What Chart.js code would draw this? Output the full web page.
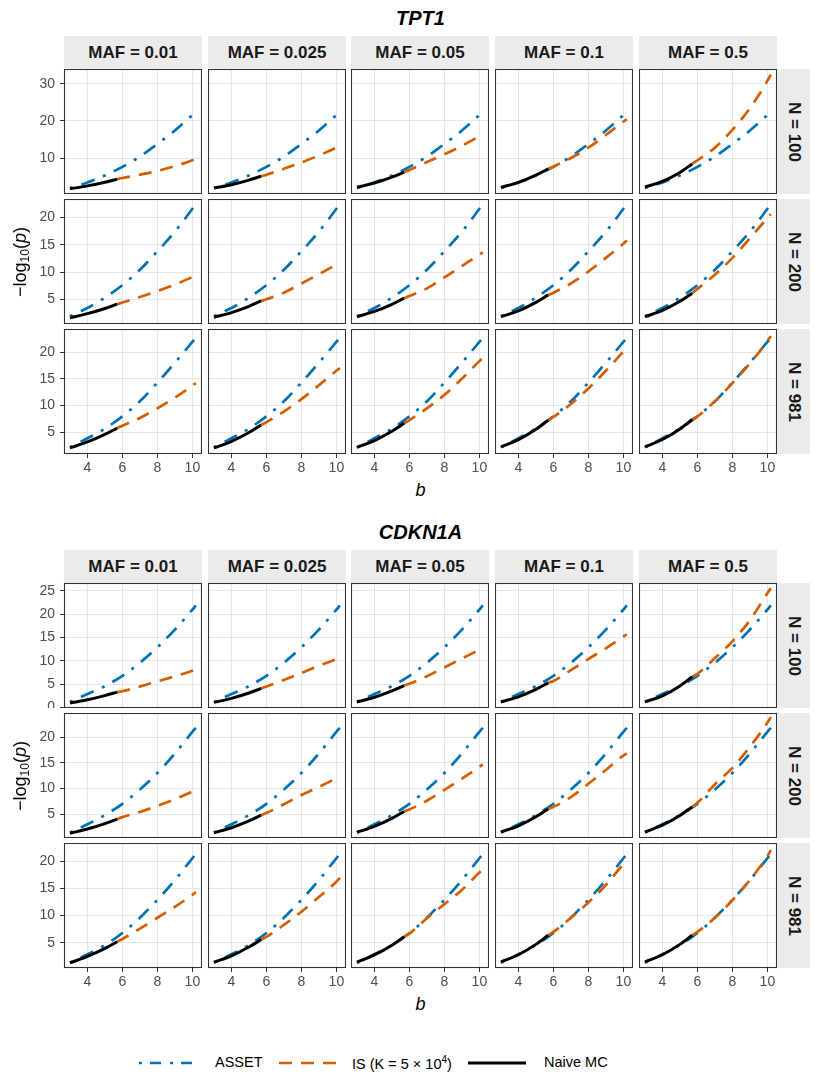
<!DOCTYPE html>
<html>
<head>
<meta charset="utf-8">
<title>ASSET vs IS vs Naive MC</title>
<script src="https://cdn.jsdelivr.net/npm/chart.js@4.4.1/dist/chart.umd.min.js"></script>
<style>
  body { margin: 0; background: #fff; font-family: "Liberation Sans", Arial, sans-serif; }
  #page { position: relative; width: 815px; height: 1079px; overflow: hidden; }
  canvas { position: absolute; }
  .lbl { position: absolute; transform: translate(-50%, -50%); white-space: nowrap; color: #000; }
  .title { font-size: 20px; font-weight: bold; font-style: italic; }
  .xtitle { font-size: 18px; font-style: italic; }
  .ytitle { font-size: 18px; transform: translate(-50%, -50%) rotate(-90deg); }
  .ytitle sub { font-size: 12px; vertical-align: -3px; }
  .strip { position: absolute; background: #EBEBEB; color: #1A1A1A; font-weight: bold; font-size: 17px;
           display: flex; align-items: center; justify-content: center; }
  .strip.right span { transform: rotate(90deg); white-space: nowrap; }
  .legend { position: absolute; top: 1053px; left: 0; height: 20px; }
  .legend svg { position: absolute; top: 5px; }
  .legend span { position: absolute; top: 1px; font-size: 14.5px; color: #000; white-space: nowrap; }
</style>
</head>
<body>
<div id="page"></div>
<script>
// =========================
// DATA
// =========================
const geneNames = ["TPT1", "CDKN1A"];
const mafLabels = ["0.01", "0.025", "0.05", "0.1", "0.5"];
const sizeLabels = ["100", "200", "981"];

// x values (b) for each method
const assetB = [3, 4, 5, 6, 7, 8, 9, 10, 10.2];
const naiveB = [3, 4, 5, 5.7];
const isB = [5.7, 6, 7, 8, 9, 10, 10.2];
const bTicks = [4, 6, 8, 10];
const bLimits = [2.66, 10.55];

// TPT1 : rows = N (100, 200, 981), cols = MAF
const tpt1Asset = [
  [1.9, 3.4, 5.3, 7.6, 10.4, 13.8, 17.4, 21.6, 22.5],
  [1.9, 3.4, 5.3, 7.6, 10.4, 13.8, 17.4, 21.6, 22.5],
  [2.2, 3.9, 5.7, 8.0, 10.8, 14.3, 18.0, 21.9, 22.7]
];
const tpt1Naive = [
  [[1.7, 2.49, 3.48, 4.3], [1.9, 2.81, 4.05, 5.1], [2.1, 3.27, 4.85, 6.2], [2.1, 3.44, 5.38, 7.1], [2.2, 3.71, 6.1, 8.4]],
  [[1.6, 2.36, 3.31, 4.1], [1.7, 2.56, 3.71, 4.7], [1.8, 2.77, 4.08, 5.2], [1.8, 2.87, 4.43, 5.8], [1.8, 2.95, 4.62, 6.1]],
  [[2.1, 3.22, 4.63, 5.8], [2.1, 3.33, 4.98, 6.4], [2.2, 3.48, 5.22, 6.7], [2.3, 3.64, 5.58, 7.3], [2.3, 3.67, 5.65, 7.4]]
];
const tpt1IS = [
  [[4.3, 4.6, 5.5, 6.5, 7.8, 9.4, 9.8], [5.1, 5.5, 7.1, 8.8, 10.7, 12.8, 13.3], [6.2, 6.8, 8.9, 11.0, 13.3, 15.9, 16.5],
   [7.1, 7.7, 10.0, 12.8, 16.2, 19.8, 20.4], [8.4, 9.4, 12.8, 17.6, 23.4, 30.8, 32.5]],
  [[4.1, 4.4, 5.4, 6.5, 7.7, 9.1, 9.4], [4.7, 5.0, 6.2, 7.9, 9.6, 11.4, 11.8], [5.2, 5.6, 7.0, 9.0, 11.1, 13.2, 13.6],
   [5.8, 6.2, 7.9, 10.1, 12.6, 15.2, 15.8], [6.1, 6.9, 9.5, 12.6, 16.2, 19.9, 20.6]],
  [[5.8, 6.25, 7.7, 9.5, 11.5, 13.7, 14.2], [6.4, 6.9, 8.9, 11.2, 13.8, 16.5, 17.0], [6.7, 7.3, 9.5, 12.0, 15.0, 18.3, 18.9],
   [7.3, 7.9, 10.3, 13.2, 16.5, 20.1, 20.8], [7.4, 8.0, 10.8, 14.2, 17.9, 22.0, 23.0]]
];
const tpt1YTicks = [[10, 20, 30], [5, 10, 15, 20], [5, 10, 15, 20]];
const tpt1YLimits = [[0.3, 34.0], [0.46, 23.4], [0.97, 24.3]];

// CDKN1A
const cdkn1aAsset = [
  [1.2, 2.9, 4.6, 6.8, 9.6, 12.9, 16.7, 21.0, 21.9],
  [1.4, 3.0, 4.8, 7.0, 9.8, 13.0, 16.8, 21.0, 21.8],
  [1.35, 2.9, 4.6, 6.8, 9.6, 12.9, 16.5, 20.5, 21.3]
];
const cdkn1aNaive = [
  [[0.95, 1.66, 2.56, 3.3], [1.1, 1.96, 3.11, 4.1], [1.2, 2.2, 3.55, 4.7], [1.2, 2.3, 3.89, 5.3], [1.2, 2.51, 4.63, 6.6]],
  [[1.25, 2.08, 3.13, 4.0], [1.35, 2.33, 3.66, 4.8], [1.45, 2.61, 4.17, 5.5], [1.5, 2.71, 4.46, 6.0], [1.5, 2.82, 4.72, 6.4]],
  [[1.35, 2.51, 3.99, 5.2], [1.45, 2.63, 4.23, 5.6], [1.45, 2.78, 4.57, 6.1], [1.5, 2.82, 4.72, 6.4], [1.5, 2.82, 4.72, 6.4]]
];
const cdkn1aIS = [
  [[3.3, 3.5, 4.5, 5.6, 6.7, 7.9, 8.2], [4.1, 4.5, 5.9, 7.4, 9.0, 10.4, 10.8], [4.7, 5.1, 6.7, 8.6, 10.5, 12.4, 12.8],
   [5.3, 5.7, 8.0, 10.4, 12.7, 15.2, 15.7], [6.6, 7.2, 10.6, 14.2, 18.7, 24.5, 25.6]],
  [[4.0, 4.4, 5.4, 6.6, 7.9, 9.4, 9.8], [4.8, 5.2, 6.9, 8.7, 10.3, 12.0, 12.4], [5.5, 5.9, 7.6, 9.7, 11.9, 14.2, 14.7],
   [6.0, 6.4, 8.3, 10.9, 13.6, 16.4, 16.8], [6.4, 7.2, 10.8, 14.0, 18.1, 22.8, 23.9]],
  [[5.2, 5.7, 7.6, 9.6, 11.6, 13.8, 14.3], [5.6, 6.1, 8.3, 10.7, 13.4, 16.2, 16.9], [6.1, 6.7, 9.5, 12.1, 14.7, 17.9, 18.5],
   [6.4, 7.0, 9.6, 12.4, 15.6, 19.4, 20.0], [6.4, 7.0, 9.6, 12.8, 16.5, 20.9, 22.0]]
];
const cdkn1aYTicks = [[0, 5, 10, 15, 20, 25], [5, 10, 15, 20], [5, 10, 15, 20]];
const cdkn1aYLimits = [[-0.1, 26.7], [0.33, 24.7], [0.39, 23.3]];

// =========================
// LAYOUT
// =========================
const page = document.getElementById("page");
const panelLefts = [64, 208, 351, 495, 639];
const panelW = 138, panelH = 125, stripH = 33, stripW = 33;
const blocks = [
  { name: geneNames[0], stripTop: 36, rowTops: [69, 199, 329], asset: tpt1Asset, naive: tpt1Naive, is: tpt1IS, yTicks: tpt1YTicks, yLim: tpt1YLimits },
  { name: geneNames[1], stripTop: 550, rowTops: [583, 713, 843], asset: cdkn1aAsset, naive: cdkn1aNaive, is: cdkn1aIS, yTicks: cdkn1aYTicks, yLim: cdkn1aYLimits }
];
const yAxisW = 40, xAxisH = 22;
const COL_ASSET = "#0072B2", COL_IS = "#D55E00", COL_NAIVE = "#000000";
const DASH_ASSET = [3, 9, 14, 9], DASH_IS = [13, 9];

function addLabel(html, cls, x, y) {
  const d = document.createElement("div");
  d.className = "lbl " + cls;
  d.innerHTML = html;
  d.style.left = x + "px";
  d.style.top = y + "px";
  page.appendChild(d);
  return d;
}

function addStrip(text, x, y, w, h, right) {
  const d = document.createElement("div");
  d.className = "strip" + (right ? " right" : "");
  d.style.left = x + "px"; d.style.top = y + "px";
  d.style.width = w + "px"; d.style.height = h + "px";
  d.innerHTML = "<span>" + text + "</span>";
  page.appendChild(d);
}

// panel border drawn on top of the lines
const panelBorder = {
  id: "panelBorder",
  afterDraw(chart) {
    const a = chart.chartArea, ctx = chart.ctx;
    ctx.save();
    ctx.strokeStyle = "#333333";
    ctx.lineWidth = 1.1;
    ctx.strokeRect(a.left + 0.5, a.top + 0.5, a.right - a.left - 1, a.bottom - a.top - 1);
    ctx.restore();
  }
};

function fitScale(size, vertical) {
  return function (scale) {
    if (vertical) scale.width = size; else scale.height = size;
    scale.paddingTop = 0; scale.paddingBottom = 0;
    scale.paddingLeft = 0; scale.paddingRight = 0;
  };
}

function pts(xs, ys) {
  return xs.map((x, i) => ({ x: x, y: ys[i] }));
}

function makePanel(block, r, c) {
  const leftAxis = c === 0, bottomAxis = r === 2;
  const cv = document.createElement("canvas");
  const w = panelW + (leftAxis ? yAxisW : 0);
  const h = panelH + (bottomAxis ? xAxisH : 0);
  cv.width = w; cv.height = h;
  cv.style.width = w + "px"; cv.style.height = h + "px";
  cv.style.left = (panelLefts[c] - (leftAxis ? yAxisW : 0)) + "px";
  cv.style.top = block.rowTops[r] + "px";
  page.appendChild(cv);

  const tickFont = { family: "'Liberation Sans', Arial, sans-serif", size: 14 };
  const yTicks = block.yTicks[r];

  new Chart(cv.getContext("2d"), {
    type: "line",
    data: {
      datasets: [
        { label: "Naive MC", data: pts(naiveB, block.naive[r][c]), borderColor: COL_NAIVE, borderWidth: 3,
          pointRadius: 0, cubicInterpolationMode: "monotone", fill: false },
        { label: "IS", data: pts(isB, block.is[r][c]), borderColor: COL_IS, borderWidth: 2.7, borderDash: DASH_IS,
          pointRadius: 0, cubicInterpolationMode: "monotone", fill: false },
        { label: "ASSET", data: pts(assetB, block.asset[r]), borderColor: COL_ASSET, borderWidth: 2.7, borderDash: DASH_ASSET,
          pointRadius: 0, cubicInterpolationMode: "monotone", fill: false }
      ]
    },
    options: {
      responsive: false,
      animation: false,
      events: [],
      layout: { padding: 0, autoPadding: false },
      plugins: { legend: { display: false }, tooltip: { enabled: false } },
      scales: {
        x: {
          type: "linear", min: bLimits[0], max: bLimits[1],
          afterBuildTicks: (s) => { s.ticks = bTicks.map(v => ({ value: v })); },
          afterFit: fitScale(bottomAxis ? xAxisH : 0, false),
          border: { display: false },
          grid: { color: "#E6E6E6", lineWidth: 1, drawTicks: bottomAxis, tickLength: 4, tickColor: "#333333", tickWidth: 1 },
          ticks: { display: bottomAxis, color: "#4D4D4D", font: tickFont, padding: 2, maxRotation: 0, autoSkip: false }
        },
        y: {
          type: "linear", min: block.yLim[r][0], max: block.yLim[r][1],
          afterBuildTicks: (s) => { s.ticks = yTicks.map(v => ({ value: v })); },
          afterFit: fitScale(leftAxis ? yAxisW : 0, true),
          border: { display: false },
          grid: { color: "#E6E6E6", lineWidth: 1, drawTicks: leftAxis, tickLength: 4, tickColor: "#333333", tickWidth: 1 },
          ticks: { display: leftAxis, color: "#4D4D4D", font: tickFont, padding: 5, autoSkip: false }
        }
      }
    },
    plugins: [panelBorder]
  });
}

blocks.forEach((block) => {
  const gridLeft = panelLefts[0], gridRight = panelLefts[4] + panelW;
  const midX = (gridLeft + gridRight) / 2;
  addLabel(block.name, "title", midX, block.stripTop - 18);

  mafLabels.forEach((m, c) => addStrip("MAF = " + m, panelLefts[c], block.stripTop, panelW, stripH, false));
  sizeLabels.forEach((n, r) => addStrip("N = " + n, gridRight, block.rowTops[r], stripW, panelH, true));

  for (let r = 0; r < 3; r++) {
    for (let c = 0; c < 5; c++) makePanel(block, r, c);
  }

  const gridTop = block.rowTops[0], gridBottom = block.rowTops[2] + panelH;
  addLabel("&minus;log<sub>10</sub>(<i>p</i>)", "ytitle", 21, (gridTop + gridBottom) / 2);
  addLabel("b", "xtitle", midX, gridBottom + 36);
});

// =========================
// LEGEND
// =========================
function legendKey(color, dash, width, left) {
  const ns = "http://www.w3.org/2000/svg";
  const svg = document.createElementNS(ns, "svg");
  svg.setAttribute("width", 58); svg.setAttribute("height", 10);
  svg.style.left = left + "px";
  const ln = document.createElementNS(ns, "line");
  ln.setAttribute("x1", 0); ln.setAttribute("x2", 58);
  ln.setAttribute("y1", 5); ln.setAttribute("y2", 5);
  ln.setAttribute("stroke", color);
  ln.setAttribute("stroke-width", width);
  if (dash) ln.setAttribute("stroke-dasharray", dash.join(" "));
  svg.appendChild(ln);
  return svg;
}
const legend = document.createElement("div");
legend.className = "legend";
page.appendChild(legend);
const legendItems = [
  { key: [COL_ASSET, [3, 8, 11, 9], 2.7], keyLeft: 139, text: "ASSET", textLeft: 215 },
  { key: [COL_IS, [13, 9], 2.7], keyLeft: 279, text: "IS (K = 5 &times; 10<sup style=\"font-size:10px\">4</sup>)", textLeft: 352 },
  { key: [COL_NAIVE, null, 3], keyLeft: 468, text: "Naive MC", textLeft: 544 }
];
legendItems.forEach((it) => {
  legend.appendChild(legendKey(it.key[0], it.key[1], it.key[2], it.keyLeft));
  const s = document.createElement("span");
  s.innerHTML = it.text;
  s.style.left = it.textLeft + "px";
  legend.appendChild(s);
});
</script>
</body>
</html>
